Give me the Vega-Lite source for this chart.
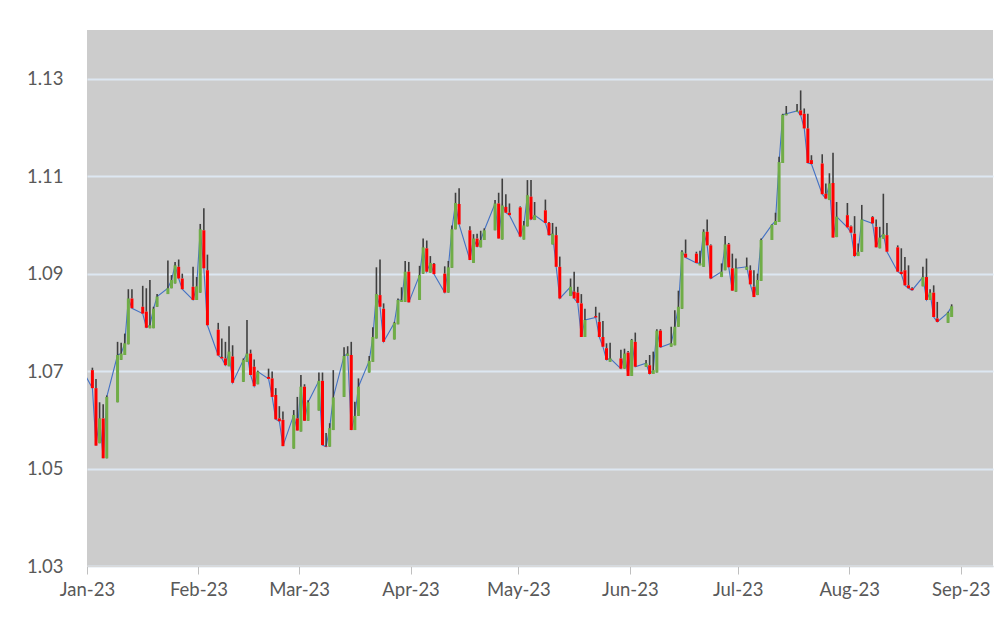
{
"$schema": "https://vega.github.io/schema/vega-lite/v6.json",
"width": 906, "height": 536,
"autosize": {"type": "none"},
"padding": {"left": 87, "top": 30, "right": 2, "bottom": 54},
"background": "white",
"config": {"view": {"fill": "#cccccc", "stroke": null}, "font": "Lato"},
"data": {"values": [
{"date":"2022-12-30","open":1.0664,"high":1.0713,"close":1.0705},
{"date":"2023-01-02","open":1.0702,"high":1.0707,"close":1.0665},
{"date":"2023-01-03","open":1.0665,"high":1.0684,"close":1.0547},
{"date":"2023-01-04","open":1.0552,"high":1.0636,"close":1.0603},
{"date":"2023-01-05","open":1.0603,"high":1.0632,"close":1.0521},
{"date":"2023-01-06","open":1.0521,"high":1.0650,"close":1.0647},
{"date":"2023-01-09","open":1.0636,"high":1.0760,"close":1.0733},
{"date":"2023-01-10","open":1.0723,"high":1.0758,"close":1.0736},
{"date":"2023-01-11","open":1.0733,"high":1.0777,"close":1.0757},
{"date":"2023-01-12","open":1.0755,"high":1.0868,"close":1.0849},
{"date":"2023-01-13","open":1.0849,"high":1.0868,"close":1.0829},
{"date":"2023-01-16","open":1.0832,"high":1.0875,"close":1.0818},
{"date":"2023-01-17","open":1.0822,"high":1.0870,"close":1.0789},
{"date":"2023-01-18","open":1.0788,"high":1.0887,"close":1.0794},
{"date":"2023-01-19","open":1.0788,"high":1.0832,"close":1.0828},
{"date":"2023-01-20","open":1.0832,"high":1.0858,"close":1.0853},
{"date":"2023-01-23","open":1.0858,"high":1.0927,"close":1.0870},
{"date":"2023-01-24","open":1.0870,"high":1.0897,"close":1.0887},
{"date":"2023-01-25","open":1.0880,"high":1.0924,"close":1.0917},
{"date":"2023-01-26","open":1.0914,"high":1.0929,"close":1.0890},
{"date":"2023-01-27","open":1.0890,"high":1.0900,"close":1.0868},
{"date":"2023-01-30","open":1.0873,"high":1.0914,"close":1.0846},
{"date":"2023-01-31","open":1.0846,"high":1.0893,"close":1.0874},
{"date":"2023-02-01","open":1.0861,"high":1.1002,"close":1.0991},
{"date":"2023-02-02","open":1.0989,"high":1.1034,"close":1.0911},
{"date":"2023-02-03","open":1.0907,"high":1.0939,"close":1.0794},
{"date":"2023-02-06","open":1.0785,"high":1.0799,"close":1.0732},
{"date":"2023-02-07","open":1.0729,"high":1.0767,"close":1.0726},
{"date":"2023-02-08","open":1.0726,"high":1.0760,"close":1.0712},
{"date":"2023-02-09","open":1.0710,"high":1.0792,"close":1.0740},
{"date":"2023-02-10","open":1.0730,"high":1.0753,"close":1.0676},
{"date":"2023-02-13","open":1.0678,"high":1.0726,"close":1.0723},
{"date":"2023-02-14","open":1.0719,"high":1.0805,"close":1.0736},
{"date":"2023-02-15","open":1.0736,"high":1.0744,"close":1.0692},
{"date":"2023-02-16","open":1.0709,"high":1.0724,"close":1.0669},
{"date":"2023-02-17","open":1.0673,"high":1.0701,"close":1.0699},
{"date":"2023-02-20","open":1.0688,"high":1.0705,"close":1.0684},
{"date":"2023-02-21","open":1.0685,"high":1.0699,"close":1.0647},
{"date":"2023-02-22","open":1.0651,"high":1.0665,"close":1.0601},
{"date":"2023-02-23","open":1.0603,"high":1.0628,"close":1.0597},
{"date":"2023-02-24","open":1.0600,"high":1.0617,"close":1.0546},
{"date":"2023-02-27","open":1.0541,"high":1.0620,"close":1.0610},
{"date":"2023-02-28","open":1.0603,"high":1.0647,"close":1.0578},
{"date":"2023-03-01","open":1.0576,"high":1.0692,"close":1.0668},
{"date":"2023-03-02","open":1.0668,"high":1.0673,"close":1.0598},
{"date":"2023-03-03","open":1.0598,"high":1.0640,"close":1.0636},
{"date":"2023-03-06","open":1.0619,"high":1.0697,"close":1.0680},
{"date":"2023-03-07","open":1.0680,"high":1.0697,"close":1.0548},
{"date":"2023-03-08","open":1.0546,"high":1.0573,"close":1.0545},
{"date":"2023-03-09","open":1.0545,"high":1.0593,"close":1.0583},
{"date":"2023-03-10","open":1.0579,"high":1.0702,"close":1.0646},
{"date":"2023-03-13","open":1.0647,"high":1.0749,"close":1.0731},
{"date":"2023-03-14","open":1.0731,"high":1.0751,"close":1.0736},
{"date":"2023-03-15","open":1.0733,"high":1.0760,"close":1.0579},
{"date":"2023-03-16","open":1.0579,"high":1.0637,"close":1.0608},
{"date":"2023-03-17","open":1.0608,"high":1.0685,"close":1.0668},
{"date":"2023-03-20","open":1.0697,"high":1.0731,"close":1.0721},
{"date":"2023-03-21","open":1.0719,"high":1.0790,"close":1.0770},
{"date":"2023-03-22","open":1.0767,"high":1.0913,"close":1.0858},
{"date":"2023-03-23","open":1.0856,"high":1.0929,"close":1.0832},
{"date":"2023-03-24","open":1.0828,"high":1.0839,"close":1.0760},
{"date":"2023-03-27","open":1.0765,"high":1.0801,"close":1.0799},
{"date":"2023-03-28","open":1.0796,"high":1.0849,"close":1.0846},
{"date":"2023-03-29","open":1.0842,"high":1.0872,"close":1.0846},
{"date":"2023-03-30","open":1.0842,"high":1.0926,"close":1.0904},
{"date":"2023-03-31","open":1.0904,"high":1.0924,"close":1.0841},
{"date":"2023-04-03","open":1.0846,"high":1.0916,"close":1.0897},
{"date":"2023-04-04","open":1.0900,"high":1.0972,"close":1.0954},
{"date":"2023-04-05","open":1.0952,"high":1.0968,"close":1.0904},
{"date":"2023-04-06","open":1.0902,"high":1.0936,"close":1.0922},
{"date":"2023-04-07","open":1.0920,"high":1.0922,"close":1.0899},
{"date":"2023-04-10","open":1.0900,"high":1.0915,"close":1.0861},
{"date":"2023-04-11","open":1.0861,"high":1.0926,"close":1.0913},
{"date":"2023-04-12","open":1.0912,"high":1.0999,"close":1.0991},
{"date":"2023-04-13","open":1.0991,"high":1.1066,"close":1.1045},
{"date":"2023-04-14","open":1.1043,"high":1.1075,"close":1.1001},
{"date":"2023-04-17","open":1.0989,"high":1.0997,"close":1.0928},
{"date":"2023-04-18","open":1.0922,"high":1.0981,"close":1.0972},
{"date":"2023-04-19","open":1.0972,"high":1.0982,"close":1.0955},
{"date":"2023-04-20","open":1.0954,"high":1.0988,"close":1.0969},
{"date":"2023-04-21","open":1.0969,"high":1.0993,"close":1.0989},
{"date":"2023-04-24","open":1.0989,"high":1.1051,"close":1.1044},
{"date":"2023-04-25","open":1.1044,"high":1.1066,"close":1.0972},
{"date":"2023-04-26","open":1.0970,"high":1.1095,"close":1.1040},
{"date":"2023-04-27","open":1.1037,"high":1.1063,"close":1.1025},
{"date":"2023-04-28","open":1.1025,"high":1.1044,"close":1.1020},
{"date":"2023-05-01","open":1.1036,"high":1.1038,"close":1.0976},
{"date":"2023-05-02","open":1.0970,"high":1.1008,"close":1.0999},
{"date":"2023-05-03","open":1.0997,"high":1.1092,"close":1.1061},
{"date":"2023-05-04","open":1.1058,"high":1.1092,"close":1.1011},
{"date":"2023-05-05","open":1.1010,"high":1.1047,"close":1.1020},
{"date":"2023-05-08","open":1.1030,"high":1.1052,"close":1.1004},
{"date":"2023-05-09","open":1.1004,"high":1.1006,"close":1.0979},
{"date":"2023-05-10","open":1.0960,"high":1.1004,"close":1.0982},
{"date":"2023-05-11","open":1.0979,"high":1.0996,"close":1.0914},
{"date":"2023-05-12","open":1.0914,"high":1.0935,"close":1.0849},
{"date":"2023-05-15","open":1.0854,"high":1.0890,"close":1.0873},
{"date":"2023-05-16","open":1.0863,"high":1.0904,"close":1.0849},
{"date":"2023-05-17","open":1.0861,"high":1.0873,"close":1.0840},
{"date":"2023-05-18","open":1.0839,"high":1.0858,"close":1.0770},
{"date":"2023-05-19","open":1.0770,"high":1.0828,"close":1.0805},
{"date":"2023-05-22","open":1.0813,"high":1.0832,"close":1.0810},
{"date":"2023-05-23","open":1.0801,"high":1.0820,"close":1.0770},
{"date":"2023-05-24","open":1.0770,"high":1.0803,"close":1.0750},
{"date":"2023-05-25","open":1.0747,"high":1.0757,"close":1.0723},
{"date":"2023-05-26","open":1.0719,"high":1.0758,"close":1.0726},
{"date":"2023-05-29","open":1.0726,"high":1.0744,"close":1.0705},
{"date":"2023-05-30","open":1.0705,"high":1.0746,"close":1.0736},
{"date":"2023-05-31","open":1.0738,"high":1.0741,"close":1.0690},
{"date":"2023-06-01","open":1.0690,"high":1.0766,"close":1.0764},
{"date":"2023-06-02","open":1.0760,"high":1.0779,"close":1.0709},
{"date":"2023-06-05","open":1.0709,"high":1.0723,"close":1.0716},
{"date":"2023-06-06","open":1.0712,"high":1.0733,"close":1.0694},
{"date":"2023-06-07","open":1.0694,"high":1.0740,"close":1.0702},
{"date":"2023-06-08","open":1.0697,"high":1.0786,"close":1.0783},
{"date":"2023-06-09","open":1.0783,"high":1.0786,"close":1.0749},
{"date":"2023-06-12","open":1.0750,"high":1.0791,"close":1.0757},
{"date":"2023-06-13","open":1.0753,"high":1.0825,"close":1.0791},
{"date":"2023-06-14","open":1.0791,"high":1.0865,"close":1.0832},
{"date":"2023-06-15","open":1.0828,"high":1.0948,"close":1.0945},
{"date":"2023-06-16","open":1.0941,"high":1.0970,"close":1.0933},
{"date":"2023-06-19","open":1.0941,"high":1.0945,"close":1.0922},
{"date":"2023-06-20","open":1.0917,"high":1.0947,"close":1.0921},
{"date":"2023-06-21","open":1.0914,"high":1.0991,"close":1.0986},
{"date":"2023-06-22","open":1.0986,"high":1.1011,"close":1.0958},
{"date":"2023-06-23","open":1.0958,"high":1.0960,"close":1.0890},
{"date":"2023-06-26","open":1.0893,"high":1.0921,"close":1.0904},
{"date":"2023-06-27","open":1.0907,"high":1.0977,"close":1.0960},
{"date":"2023-06-28","open":1.0960,"high":1.0963,"close":1.0913},
{"date":"2023-06-29","open":1.0911,"high":1.0941,"close":1.0865},
{"date":"2023-06-30","open":1.0863,"high":1.0931,"close":1.0911},
{"date":"2023-07-03","open":1.0908,"high":1.0933,"close":1.0914},
{"date":"2023-07-04","open":1.0907,"high":1.0917,"close":1.0878},
{"date":"2023-07-05","open":1.0873,"high":1.0907,"close":1.0852},
{"date":"2023-07-06","open":1.0856,"high":1.0900,"close":1.0887},
{"date":"2023-07-07","open":1.0885,"high":1.0972,"close":1.0969},
{"date":"2023-07-10","open":1.0969,"high":1.1001,"close":1.1000},
{"date":"2023-07-11","open":1.1000,"high":1.1025,"close":1.1008},
{"date":"2023-07-12","open":1.1006,"high":1.1140,"close":1.1129},
{"date":"2023-07-13","open":1.1127,"high":1.1228,"close":1.1226},
{"date":"2023-07-14","open":1.1225,"high":1.1244,"close":1.1228},
{"date":"2023-07-17","open":1.1232,"high":1.1248,"close":1.1234},
{"date":"2023-07-18","open":1.1235,"high":1.1276,"close":1.1225},
{"date":"2023-07-19","open":1.1228,"high":1.1239,"close":1.1198},
{"date":"2023-07-20","open":1.1198,"high":1.1228,"close":1.1127},
{"date":"2023-07-21","open":1.1133,"high":1.1143,"close":1.1125},
{"date":"2023-07-24","open":1.1126,"high":1.1145,"close":1.1063},
{"date":"2023-07-25","open":1.1064,"high":1.1085,"close":1.1054},
{"date":"2023-07-26","open":1.1051,"high":1.1106,"close":1.1085},
{"date":"2023-07-27","open":1.1086,"high":1.1148,"close":1.0974},
{"date":"2023-07-28","open":1.0975,"high":1.1047,"close":1.1017},
{"date":"2023-07-31","open":1.1020,"high":1.1045,"close":1.0995},
{"date":"2023-08-01","open":1.0997,"high":1.0999,"close":1.0984},
{"date":"2023-08-02","open":1.0982,"high":1.1018,"close":1.0936},
{"date":"2023-08-03","open":1.0936,"high":1.0962,"close":1.0945},
{"date":"2023-08-04","open":1.0945,"high":1.1041,"close":1.1011},
{"date":"2023-08-07","open":1.1016,"high":1.1018,"close":1.1003},
{"date":"2023-08-08","open":1.0996,"high":1.1011,"close":1.0954},
{"date":"2023-08-09","open":1.0952,"high":1.0996,"close":1.0974},
{"date":"2023-08-10","open":1.0972,"high":1.1064,"close":1.0981},
{"date":"2023-08-11","open":1.0979,"high":1.1004,"close":1.0945},
{"date":"2023-08-14","open":1.0954,"high":1.0958,"close":1.0904},
{"date":"2023-08-15","open":1.0904,"high":1.0952,"close":1.0899},
{"date":"2023-08-16","open":1.0907,"high":1.0934,"close":1.0876},
{"date":"2023-08-17","open":1.0876,"high":1.0917,"close":1.0870},
{"date":"2023-08-18","open":1.0870,"high":1.0872,"close":1.0866},
{"date":"2023-08-21","open":1.0874,"high":1.0914,"close":1.0893},
{"date":"2023-08-22","open":1.0893,"high":1.0931,"close":1.0846},
{"date":"2023-08-23","open":1.0846,"high":1.0868,"close":1.0861},
{"date":"2023-08-24","open":1.0861,"high":1.0876,"close":1.0811},
{"date":"2023-08-25","open":1.0808,"high":1.0842,"close":1.0801},
{"date":"2023-08-28","open":1.0799,"high":1.0822,"close":1.0820},
{"date":"2023-08-29","open":1.0811,"high":1.0837,"close":1.0833}
]},
"encoding": {
  "x": {"field": "date", "timeUnit": "utcyearmonthdate", "type": "temporal", "bandPosition": 0.5,
    "scale": {"type": "utc", "domain": [{"year": 2023, "month": 1, "date": 1, "utc": true}, {"year": 2023, "month": 9, "date": 10, "utc": true}]},
    "axis": {"title": null, "format": "%b-%y", "labelFontSize": 18.5, "labelColor": "#595959", "labelFlush": false, "labelOverlap": false,
      "tickColor": "#bfbfbf", "tickSize": 8, "tickWidth": 1, "domainColor": "#d9d9d9", "domainWidth": 1, "labelPadding": 6, "grid": false,
      "values": [{"year": 2023, "month": 1, "date": 1, "utc": true}, {"year": 2023, "month": 2, "date": 1, "utc": true}, {"year": 2023, "month": 3, "date": 1, "utc": true}, {"year": 2023, "month": 4, "date": 1, "utc": true}, {"year": 2023, "month": 5, "date": 1, "utc": true}, {"year": 2023, "month": 6, "date": 1, "utc": true}, {"year": 2023, "month": 7, "date": 1, "utc": true}, {"year": 2023, "month": 8, "date": 1, "utc": true}, {"year": 2023, "month": 9, "date": 1, "utc": true}]}
  }
},
"layer": [
  {"mark": {"type": "line", "color": "#4472C4", "strokeWidth": 1.1, "clip": true},
   "encoding": {"y": {"field": "close", "type": "quantitative", "scale": {"domain": [1.03, 1.14], "nice": false, "zero": false},
     "axis": {"title": null, "values": [1.03, 1.05, 1.07, 1.09, 1.11, 1.13], "format": ".2f", "labelFontSize": 18.5, "labelColor": "#595959",
       "ticks": false, "domain": false, "grid": true, "gridColor": "#dde7f2", "gridWidth": 2, "labelPadding": 24}}}},
  {"mark": {"type": "rule", "color": "#3f3f3f", "strokeWidth": 1.6, "clip": true},
   "encoding": {"y": {"field": "open", "type": "quantitative", "title": null}, "y2": {"field": "high"}}},
  {"mark": {"type": "rule", "strokeWidth": 3, "clip": true},
   "encoding": {"y": {"field": "open", "type": "quantitative", "title": null}, "y2": {"field": "close"},
     "color": {"condition": {"test": "datum.close >= datum.open", "value": "#70AD47"}, "value": "#FF0000"}}}
]
}
